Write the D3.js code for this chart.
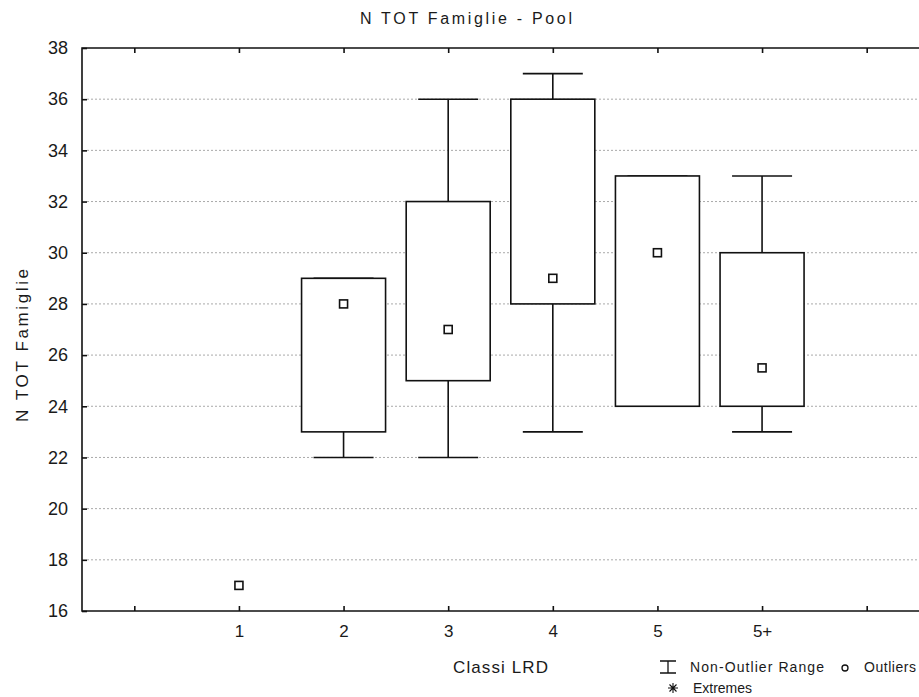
<!DOCTYPE html>
<meta charset="utf-8">
<style>
body { margin: 0; background: #fff; }
svg { font-family: Arial, "Liberation Sans", sans-serif; }
.grid line { stroke: #aaa; stroke-dasharray: 2,2; stroke-width: 1; }
.box rect { fill: #fff; stroke: #111; stroke-width: 1.6; }
.box line { stroke: #111; stroke-width: 1.6; }
.med { fill: #fff; stroke: #111; stroke-width: 1.6; }
.frame { stroke: #111; stroke-width: 1.6; fill: none; }
</style>
<body>
<script src="https://d3js.org/d3.v7.min.js"></script>
<script>

var categories = ["1", "2", "3", "4", "5", "5+"];
var medians    = [17, 28, 27, 29, 30, 25.5];
var q1         = [null, 23, 25, 28, 24, 24];
var q3         = [null, 29, 32, 36, 33, 30];
var whiskLow   = [null, 22, 22, 23, 24, 23];
var whiskHigh  = [null, 29, 36, 37, 33, 33];
var yTicks     = [16, 18, 20, 22, 24, 26, 28, 30, 32, 34, 36, 38];

var W = 919, H = 697;
var pLeft = 82, pTop = 48, pBottom = 611, pRight = 919;
var font = "Arial, 'Liberation Sans', sans-serif";

var svg = d3.select("body").append("svg")
    .attr("width", W)
    .attr("height", H);

// positions 0..7, categories at 1..6
var x = d3.scaleLinear().domain([-0.5, 7.5]).range([pLeft, pRight]);
var y = d3.scaleLinear().domain([16, 38]).range([pBottom, pTop]);

// grid
svg.append("g")
    .attr("class", "grid")
  .selectAll("line")
    .data(yTicks.filter(function(d) { return d > 16 && d < 38; }))
  .enter().append("line")
    .attr("x1", pLeft + 5)
    .attr("x2", pRight)
    .attr("y1", function(d) { return y(d); })
    .attr("y2", function(d) { return y(d); });

// axes
var yAxis = d3.axisLeft(y).tickValues(yTicks).tickSize(-5).tickPadding(14);
var gy = svg.append("g")
    .attr("transform", "translate(" + pLeft + ",0)")
    .call(yAxis);
gy.select(".domain").remove();
gy.selectAll("line").attr("stroke", "#111").attr("stroke-width", 1.6);
gy.selectAll("text").attr("font-size", 18).attr("font-family", font).attr("fill", "#1a1a1a");

var xPos = d3.range(0, 8);
var xAxis = d3.axisBottom(x).tickValues(xPos).tickSize(-5).tickPadding(14)
    .tickFormat(function(d) { return categories[d - 1] || ""; });
var gx = svg.append("g")
    .attr("transform", "translate(0," + pBottom + ")")
    .call(xAxis);
gx.select(".domain").remove();
gx.selectAll("line").attr("stroke", "#111").attr("stroke-width", 1.6);
gx.selectAll("text").attr("font-size", 17).attr("font-family", font).attr("fill", "#1a1a1a");

var xTop = d3.axisTop(x).tickValues(xPos).tickSize(-5).tickFormat("");
var gt = svg.append("g")
    .attr("transform", "translate(0," + pTop + ")")
    .call(xTop);
gt.select(".domain").remove();
gt.selectAll("line").attr("stroke", "#111").attr("stroke-width", 1.6);

// frame
svg.append("path")
    .attr("class", "frame")
    .attr("d", "M" + pRight + "," + pTop + "H" + pLeft + "V" + pBottom + "H" + pRight);

// boxes
var boxW = 84, capW = 60, sq = 8;
var data = categories.map(function(c, i) {
  return {c: c, pos: i + 1, med: medians[i], q1: q1[i], q3: q3[i], lo: whiskLow[i], hi: whiskHigh[i]};
});

var g = svg.selectAll(".box")
    .data(data.filter(function(d) { return d.q1 != null; }))
  .enter().append("g")
    .attr("class", "box");

g.append("line")
    .attr("x1", function(d) { return x(d.pos); })
    .attr("x2", function(d) { return x(d.pos); })
    .attr("y1", function(d) { return y(d.hi); })
    .attr("y2", function(d) { return y(d.lo); });

g.append("line")
    .attr("x1", function(d) { return x(d.pos) - capW / 2; })
    .attr("x2", function(d) { return x(d.pos) + capW / 2; })
    .attr("y1", function(d) { return y(d.hi); })
    .attr("y2", function(d) { return y(d.hi); });

g.append("line")
    .attr("x1", function(d) { return x(d.pos) - capW / 2; })
    .attr("x2", function(d) { return x(d.pos) + capW / 2; })
    .attr("y1", function(d) { return y(d.lo); })
    .attr("y2", function(d) { return y(d.lo); });

g.append("rect")
    .attr("x", function(d) { return x(d.pos) - boxW / 2; })
    .attr("width", boxW)
    .attr("y", function(d) { return y(d.q3); })
    .attr("height", function(d) { return y(d.q1) - y(d.q3); });

svg.selectAll(".med")
    .data(data)
  .enter().append("rect")
    .attr("class", "med")
    .attr("x", function(d) { return x(d.pos) - sq / 2; })
    .attr("y", function(d) { return y(d.med) - sq / 2; })
    .attr("width", sq)
    .attr("height", sq);

// titles
svg.append("text")
    .attr("x", 360).attr("y", 24)
    .attr("font-size", 16).attr("fill", "#1a1a1a")
    .attr("textLength", 212)
    .text("N TOT Famiglie - Pool");

svg.append("text")
    .attr("transform", "translate(28,346) rotate(-90)")
    .attr("x", -76)
    .attr("font-size", 17).attr("fill", "#1a1a1a")
    .attr("textLength", 153)
    .text("N TOT Famiglie");

svg.append("text")
    .attr("x", 453).attr("y", 673)
    .attr("font-size", 17).attr("fill", "#1a1a1a")
    .attr("textLength", 95)
    .text("Classi LRD");

// legend
var lg = svg.append("g").attr("font-size", 14).attr("fill", "#1a1a1a");
lg.append("path")
    .attr("d", "M660,661H676M668,661V673M660,673H676")
    .attr("stroke", "#111").attr("stroke-width", 1.3).attr("fill", "none");
lg.append("text").attr("x", 690).attr("y", 672).attr("textLength", 134).text("Non-Outlier Range");
lg.append("circle").attr("cx", 845).attr("cy", 668).attr("r", 3)
    .attr("fill", "none").attr("stroke", "#111").attr("stroke-width", 1.3);
lg.append("text").attr("x", 864).attr("y", 672).attr("textLength", 52).text("Outliers");
lg.append("path")
    .attr("d", "M668,688H678M673,683V693M669.5,684.5L676.5,691.5M676.5,684.5L669.5,691.5")
    .attr("stroke", "#111").attr("stroke-width", 1.1).attr("fill", "none");
lg.append("text").attr("x", 693).attr("y", 693).attr("textLength", 59).text("Extremes");

</script>
</body>
